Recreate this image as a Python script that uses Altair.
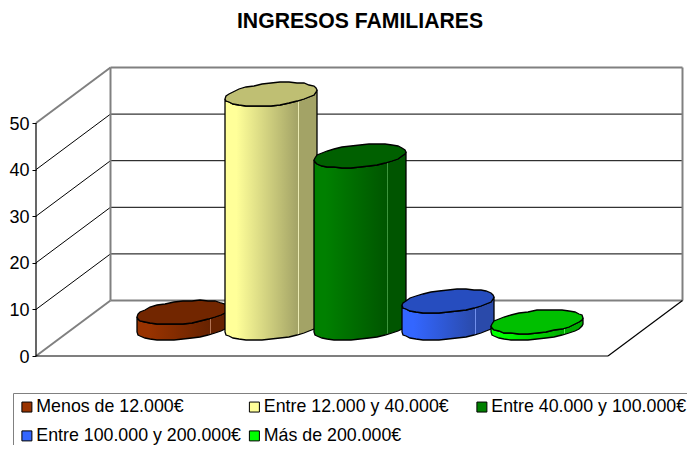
import math
import altair as alt
import pandas as pd

TITLE = "INGRESOS FAMILIARES"
series = ["Menos de 12.000€", "Entre 12.000 y 40.000€", "Entre 40.000 y 100.000€",
          "Entre 100.000 y 200.000€", "Más de 200.000€"]
values = [3.4, 50.2, 37.0, 5.8, 1.4]
base_colors = ["#993300", "#FFFF99", "#008000", "#3366FF", "#00FF00"]
dark_colors = ["#662200", "#A3A366", "#005500", "#2A4AAA", "#00AA00"]
top_colors = ["#722600", "#BFBF73", "#006000", "#264DBF", "#00BF00"]
line_colors = ["#C98A6A", "#FFFFC8", "#4DA64D", "#85A3FF", "#66FF66"]
ticks = [0, 10, 20, 30, 40, 50]

PX_U, PX_V = 88.5, 4.66          # screen pixels per series step / per value unit
DX, DV = 74.5 / PX_U, 55.5 / PX_V  # oblique shift of the full chart depth
FIRST_U, WALL_U = 109.5 / PX_U, 572 / PX_U
RU, RD = 0.486, 0.216            # cylinder radius along series axis / along depth
TOP_V = 50

XS = alt.Scale(domain=[(8 - 36) / PX_U, (687 - 36) / PX_U], nice=False, zero=False)
YS = alt.Scale(domain=[-(445 - 356) / PX_V, (356 - 48) / PX_V], nice=False, zero=False)
AXIS = alt.Axis(values=ticks, title=None, domain=False, grid=False, offset=-28, tickSize=4,
                tickColor="#000000", tickWidth=1, labelFont="Liberation Sans", labelFontSize=18,
                labelColor="#000000", labelPadding=3, labelFlush=False, labelOverlap=False,
                labelOffset=1)
X = lambda f="x": alt.X(f"{f}:Q", scale=XS, axis=None)
Y = lambda f="y": alt.Y(f"{f}:Q", scale=YS, axis=AXIS)


def proj(u, d, v):
    return {"x": u + d * DX, "y": v + d * DV}


def seg(u, d, v, u2, d2, v2):
    a, b = proj(u, d, v), proj(u2, d2, v2)
    return {"x": a["x"], "y": a["y"], "x2": b["x"], "y2": b["y"]}


def rules(segs, color, width):
    return alt.Chart(pd.DataFrame(segs)).mark_rule(color=color, strokeWidth=width).encode(
        x=X(), y=Y(), x2="x2:Q", y2="y2:Q")


def arcs(u_c, v, n=16):
    """Upper and lower arcs of a cylinder's projected circle at height v, snapped to pixels."""
    a, b, c = RU * PX_U, RD * DX * PX_U, RD * DV * PX_V
    r, phi = math.hypot(a, b), math.atan2(b, a)
    cx, cy = (u_c + 0.5 * DX) * PX_U, (v + 0.5 * DV) * PX_V
    out = []
    for k in range(n, -1, -1):
        th = math.pi * k / n
        xp = round(cx + r * math.cos(th))
        up = round(cy + c * math.sin(phi + th))
        lo = round(cy + c * math.sin(phi - th))
        if up < lo:
            up, lo = lo, up
        out.append({"x": xp / PX_U, "up": up / PX_V, "lo": lo / PX_V})
    return out


def gradient(light, dark, line):
    return alt.Gradient(gradient="linear", x1=0, x2=1, y1=0, y2=0, stops=[
        alt.GradientStop(color=light, offset=0.0),
        alt.GradientStop(color=light, offset=0.115),
        alt.GradientStop(color=line, offset=0.12),
        alt.GradientStop(color=light, offset=0.125),
        alt.GradientStop(color=dark, offset=0.795),
        alt.GradientStop(color=line, offset=0.80),
        alt.GradientStop(color=dark, offset=0.805),
        alt.GradientStop(color=dark, offset=1.0),
    ])


layers = []
# walls and floor
back = [seg(0, 1, 0, WALL_U, 1, 0), seg(0, 1, 0, 0, 1, TOP_V), seg(0, 1, TOP_V, WALL_U, 1, TOP_V),
        seg(WALL_U, 1, 0, WALL_U, 1, TOP_V), seg(0, 0, TOP_V, 0, 1, TOP_V), seg(0, 0, 0, 0, 1, 0)]
grid = []
for t in ticks[1:-1]:
    grid.append(seg(0, 1, t, WALL_U, 1, t))
    grid.append(seg(0, 0, t, 0, 1, t))
floor = [seg(0, 0, 0, WALL_U, 0, 0), seg(WALL_U, 0, 0, WALL_U, 1, 0), seg(0, 0, 0, 0, 0, TOP_V)]
layers += [rules(grid, "#000000", 1), rules(back, "#808080", 2), rules(floor, "#000000", 1.2)]

# cylinders, drawn left to right
for i, (val, light, dark, top, line) in enumerate(zip(values, base_colors, dark_colors, top_colors, line_colors)):
    u = FIRST_U + i
    bottom, upper = arcs(u, 0), arcs(u, val)
    body = pd.DataFrame({"x": [p["x"] for p in bottom], "y": [p["lo"] for p in upper],
                         "y2": [p["lo"] for p in bottom]})
    lid = pd.DataFrame({"x": [p["x"] for p in upper], "y": [p["up"] for p in upper],
                        "y2": [p["lo"] for p in upper]})
    layers.append(alt.Chart(body).mark_area(color=gradient(light, dark, line), stroke="#000000", strokeWidth=1.3,
                                            opacity=1).encode(x=X(), y=Y(), y2="y2:Q"))
    layers.append(alt.Chart(lid).mark_area(color=top, stroke="#000000", strokeWidth=1.3,
                                           opacity=1).encode(x=X(), y=Y(), y2="y2:Q"))

# legend
leg_df = pd.DataFrame({"serie": series, "x": [FIRST_U + i for i in range(5)], "y": values})
layers.append(alt.Chart(leg_df).mark_square(opacity=0).encode(
    x=X(), y=Y(),
    color=alt.Color("serie:N", scale=alt.Scale(domain=series, range=base_colors), sort=series,
                    legend=alt.Legend(
                        title=None, orient="none", legendX=5, legendY=345, columns=3, direction="horizontal",
                        gridAlign="all", symbolType="square", symbolSize=100, symbolOpacity=1,
                        symbolStrokeColor="#000000", symbolStrokeWidth=1, labelFont="Liberation Sans",
                        labelFontSize=17.8, labelColor="#000000", labelOffset=0.5, columnPadding=4.5,
                        rowPadding=10, labelLimit=400, strokeColor="#808080", padding=5, symbolOffset=0)),
))

chart = alt.layer(*layers).properties(
    width=679, height=397, padding={"left": 0, "top": 40, "right": 0, "bottom": 0},
    autosize=alt.AutoSizeParams(type="none"),
    title=alt.TitleParams(TITLE, font="Liberation Sans", fontSize=21.2, fontWeight="bold", color="#000000",
                          anchor="middle", dx=12.5, offset=16),
).configure_view(stroke=None)

chart.save("out.html", embed_options={"renderer": "svg", "actions": False})
